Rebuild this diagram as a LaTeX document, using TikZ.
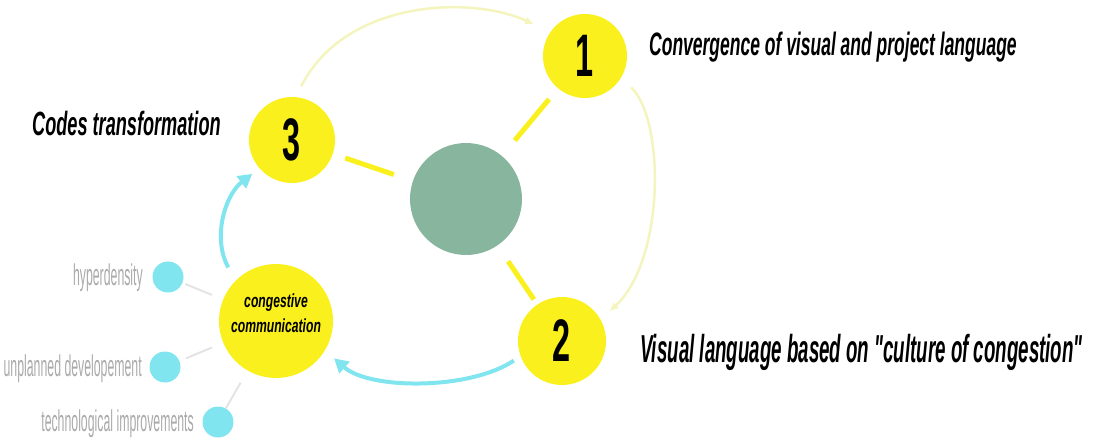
\documentclass[tikz,border=0pt]{standalone}
\usepackage{fontspec}
\setmainfont{Liberation Sans}
\newfontfamily\cndA[FakeStretch=0.54]{Liberation Sans}
\newfontfamily\cndB[FakeStretch=0.64]{Liberation Sans}
\newfontfamily\cndC[FakeStretch=0.41]{Liberation Sans}
\newfontfamily\cndD[FakeStretch=0.48]{Liberation Sans}
\usetikzlibrary{arrows.meta}
\definecolor{yel}{RGB}{250,240,30}
\definecolor{grn}{RGB}{136,181,157}
\definecolor{cyn}{RGB}{128,229,238}
\definecolor{pale}{RGB}{244,244,190}
\definecolor{gtxt}{RGB}{170,170,170}
\definecolor{gline}{RGB}{228,228,228}
\tikzset{
  ycirc/.style={circle, fill=yel, draw=none, inner sep=0pt, minimum size=#1,
    font=\cndA\bfseries\fontsize{60}{60}\selectfont},
  gcirc/.style={circle, fill=grn, draw=none, minimum size=112pt},
  ccirc/.style={circle, fill=cyn, draw=none, minimum size=31pt},
  title/.style={inner sep=0pt, font=\cndA\bfseries\itshape\fontsize{#1}{#1}\selectfont},
  titleb/.style={inner sep=0pt, font=\cndD\bfseries\itshape\fontsize{#1}{#1}\selectfont},
  glabel/.style={inner sep=0pt, text=gtxt, font=\cndC\fontsize{30}{30}\selectfont},
  cclabel/.style={inner sep=0pt, align=center, font=\cndB\bfseries\itshape\fontsize{19}{25}\selectfont},
  yline/.style={draw=yel, line width=5pt},
  parrow/.style={draw=pale, line width=2.5pt, -{Latex[length=9pt,width=8pt]}},
  carrow/.style={draw=cyn, line width=4pt, -{Triangle[length=14pt,width=15pt]}},
  gconn/.style={draw=gline, line width=2pt},
}
\begin{document}
\begin{tikzpicture}[x=1pt,y=-1pt]
\useasboundingbox (0,0) rectangle (1093,439);
% main circles
\node[ycirc=84pt] (n1) at (585,56) {1};
\node[ycirc=86pt] (n3) at (292,140) {3};
\node[ycirc=88pt] (n2) at (562,341) {2};
\node[gcirc] (g) at (466,199) {};
\node[circle, fill=yel, minimum size=114pt] (cc) at (276,321) {};
\node[cclabel] (cct) at (276,313) {congestive\\communication};
% small cyan circles
\node[ccirc] (h) at (168,277) {};
\node[ccirc] (u) at (165,367) {};
\node[ccirc] (t) at (218,422) {};
% labels
\node[title=32.4, anchor=base west] (l1) at (649,55) {Convergence of visual and project language};
\node[titleb=39, anchor=base west] (l2) at (640,362) {Visual language based on "culture of congestion"};
\node[title=33.6, anchor=base west] (l3) at (32,135) {Codes transformation};
\node[glabel, anchor=base east] (lh) at (143,285) {hyperdensity};
\node[glabel, anchor=base east] (lu) at (142,376) {unplanned developement};
\node[glabel, anchor=base east] (lt) at (194,431) {technological improvements};
% yellow spokes
\draw[yline, shorten <=14pt, shorten >=20pt] (n1) -- (g);
\draw[yline, shorten <=13pt, shorten >=20pt] (n3) -- (g);
\draw[yline, shorten <=19pt, shorten >=6pt] (g) -- (n2);
% pale arcs
\draw[parrow, shorten <=12pt, shorten >=18pt] (n3.85) .. controls (345,0) and (470,-5) .. (n1.145);
\draw[parrow, shorten <=14pt, shorten >=12pt] (n1.-31) .. controls (665,120) and (665,260) .. (n2.29);
% cyan arrows
\draw[carrow, shorten <=8pt, shorten >=12pt] (n2.200) .. controls (470,390) and (370,390) .. (cc.-31);
\draw[carrow, shorten <=15pt, shorten >=9pt] (cc.135) .. controls (212,238) and (225,195) .. (n3.221);
% gray connectors
\draw[gconn, shorten <=3pt, shorten >=12pt] (h) -- (cc);
\draw[gconn, shorten <=7pt, shorten >=12pt] (u) -- (cc);
\draw[gconn, shorten <=0pt, shorten >=14pt] (t) -- (cc);
\end{tikzpicture}
\end{document}
